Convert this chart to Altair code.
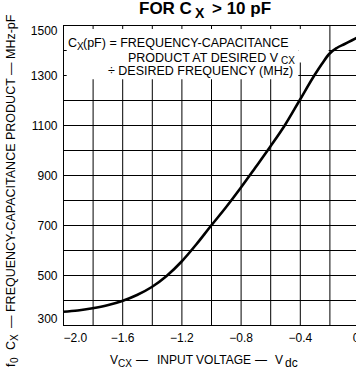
import altair as alt
import pandas as pd

FONT = "Liberation Sans"

# curve: input voltage (Vdc) vs frequency-capacitance product (MHz-pF)
volts = [-2.0, -1.9, -1.8, -1.7, -1.6, -1.5, -1.4, -1.3, -1.2, -1.1, -1.0,
         -0.9, -0.8, -0.7, -0.6, -0.5, -0.4, -0.3, -0.25, -0.2, -0.15, -0.1, -0.05, 0.0]
product = [353, 358, 367, 379, 396, 420, 452, 496, 553, 622, 697,
           770, 848, 930, 1013, 1100, 1200, 1300, 1345, 1385, 1408, 1423, 1438, 1453]

x_grid = [-2.0, -1.8, -1.6, -1.4, -1.2, -1.0, -0.8, -0.6, -0.4, -0.2, 0.0]
y_grid = [300, 400, 500, 600, 700, 800, 900, 1000, 1100, 1200, 1300, 1400, 1500]
x_labels = [-2.0, -1.6, -1.2, -0.8, -0.4, 0.0]
y_labels = [300, 500, 700, 900, 1100, 1300, 1500]

# annotation box (data coords): main block plus a small extension at upper right
box = {"x0": [-1.99, -0.41], "x1": [-0.41, -0.205], "y0": [1283, 1350], "y1": [1496, 1496]}
top_tick_x = [-1.8, -1.6, -1.4, -1.2, -1.0, -0.8, -0.6, -0.4]
left_tick_y = [1300, 1400]

# text pieces: (text, x, y, size, weight, angle)  -- pixel offsets from plot origin
texts = [
    ("FOR C", 76, -11, 17, "bold", 0),
    ("X", 132, -7, 14, "bold", 0),
    ("> 10 pF", 149, -11, 17, "bold", 0),
    ("C", 5, 22, 12.5, "normal", 0),
    ("X", 14, 25, 10, "normal", 0),
    ("(pF) = FREQUENCY-CAPACITANCE", 20, 22, 12.5, "normal", 0),
    ("PRODUCT AT DESIRED V", 65, 36.5, 12.5, "normal", 0),
    ("CX", 218, 38.5, 10, "normal", 0),
    ("÷ DESIRED FREQUENCY (MHz)", 45, 50, 12.5, "normal", 0),
    ("V", 47, 339, 12, "normal", 0),
    ("CX", 55, 342, 10, "normal", 0),
    ("—", 73, 339, 12, "normal", 0),
    ("INPUT VOLTAGE", 94, 339, 12, "normal", 0),
    ("—", 192, 339, 12, "normal", 0),
    ("V", 212, 339, 12, "normal", 0),
    ("dc", 222, 342, 12, "normal", 0),
    ("f", -48, 342, 12.5, "normal", 270),
    ("0", -45, 338, 10, "normal", 270),
    ("C", -48, 325, 12.5, "normal", 270),
    ("X", -45, 316, 10, "normal", 270),
    ("— FREQUENCY-CAPACITANCE PRODUCT — MHz-pF", -48, 303, 12.5, "normal", 270),
]

xscale = alt.Scale(domain=[-2.0, 0.0], nice=False, zero=False)
yscale = alt.Scale(domain=[300, 1500], nice=False, zero=False)

common_axis = dict(grid=False, ticks=False, domain=False, labelFlush=True, labelOverlap=False,
                   labelFont=FONT, labelFontSize=12, labelColor="black", title=None)

xaxis = alt.Axis(values=x_labels, labelPadding=7,
                 labelExpr="datum.value == 0 ? '0' : format(datum.value, '.1f')",
                 **common_axis)
yaxis = alt.Axis(values=y_labels, format="d", labelPadding=6, **common_axis)

df = pd.DataFrame({"v": volts, "p": product})

vgrid = alt.Chart(pd.DataFrame({"x": x_grid})).mark_rule(
    color="black", strokeWidth=1, xOffset=0.5).encode(x=alt.X("x:Q", scale=xscale, axis=xaxis))
hgrid = alt.Chart(pd.DataFrame({"y": y_grid})).mark_rule(
    color="black", strokeWidth=1, yOffset=0.5).encode(y=alt.Y("y:Q", scale=yscale, axis=yaxis))

box_layer = alt.Chart(pd.DataFrame(box)).mark_rect(color="white", opacity=1).encode(
    x="x0:Q", x2="x1:Q", y="y0:Q", y2="y1:Q"
)

top_ticks = alt.Chart(pd.DataFrame({"x": top_tick_x, "y0": [1500] * len(top_tick_x),
                                    "y1": [1484] * len(top_tick_x)})).mark_rule(
    color="black", strokeWidth=1, xOffset=0.5).encode(x="x:Q", y="y0:Q", y2="y1:Q")

left_ticks = alt.Chart(pd.DataFrame({"y": left_tick_y, "x0": [-2.0] * len(left_tick_y),
                                     "x1": [-1.975] * len(left_tick_y)})).mark_rule(
    color="black", strokeWidth=1, yOffset=0.5).encode(y="y:Q", x="x0:Q", x2="x1:Q")

curve = alt.Chart(df).mark_line(color="black", strokeWidth=2.6, interpolate="monotone").encode(
    x="v:Q", y="p:Q"
)

text_layers = []
for t, x, y, size, weight, angle in texts:
    text_layers.append(
        alt.Chart(alt.Data(values=[{}])).mark_text(
            align="left", baseline="alphabetic", font=FONT, fontSize=size,
            fontWeight=weight, angle=angle, color="black"
        ).encode(x=alt.value(x), y=alt.value(y), text=alt.value(t))
    )

chart = alt.layer(vgrid, hgrid, box_layer, top_ticks, left_ticks, curve, *text_layers).properties(
    width=296, height=300,
    autosize=alt.AutoSizeParams(type="none"),
    padding={"left": 63, "top": 25, "right": -3, "bottom": 43},
).configure_view(stroke="black", strokeWidth=1.5).configure(background="white")

page_css = ("html, body { margin: 0; padding: 0; overflow: hidden; } "
            ".vega-embed { display: block; line-height: 0; } "
            ".vega-embed svg { display: block; }")

chart.save("out.html", embed_options={"renderer": "svg", "actions": False,
                                      "defaultStyle": page_css})
